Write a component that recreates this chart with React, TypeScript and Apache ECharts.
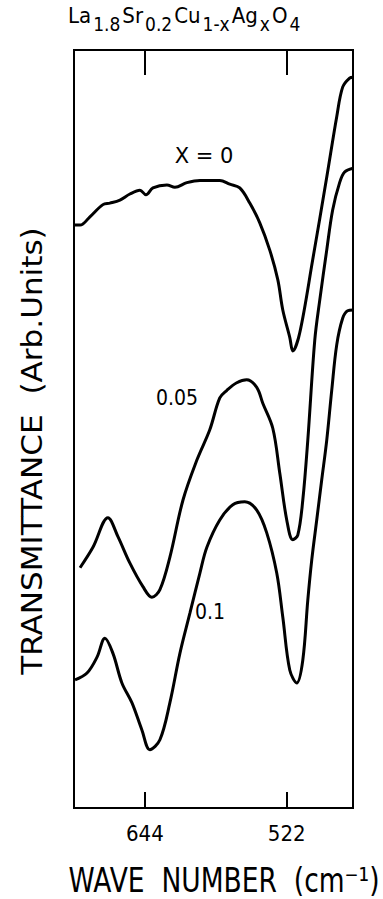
import React, { useEffect, useRef } from "react";
import * as echarts from "echarts";

// Wave number (cm^-1) and transmittance (arb. units, 0-100)
const wnX0 = [705, 699.8, 691.3, 680.1, 674.1, 665.5, 656.9, 648.3, 643.1, 637.1, 625.1, 618.2, 607.9, 596.7, 579.6, 571.0, 562.4, 553.8, 545.2, 536.6, 529.7, 525.4, 519.4, 516.8, 510.8, 499.7, 487.6, 479.0, 473.9, 467.9, 465];
const trX0 = [76.9, 76.9, 78.0, 79.6, 79.8, 80.2, 81.0, 81.5, 80.9, 81.8, 82.2, 81.9, 82.5, 82.8, 82.8, 82.3, 81.8, 79.8, 77.2, 73.6, 69.7, 65.7, 62.1, 60.3, 62.7, 72.3, 83.2, 91.2, 95.1, 96.3, 96.4];

const wnX005 = [699.8, 688.7, 675.8, 667.2, 656.9, 645.7, 638.0, 631.1, 622.5, 611.3, 599.3, 588.2, 579.6, 573.5, 565.0, 556.4, 547.8, 542.6, 534.0, 528.0, 522.0, 516.8, 512.5, 508.2, 503.9, 497.9, 493.6, 487.6, 482.5, 476.5, 472.2, 465];
const trX005 = [31.7, 34.4, 38.3, 35.8, 32.3, 29.2, 27.8, 28.8, 33.1, 40.6, 45.9, 49.9, 54.1, 55.1, 56.1, 56.5, 55.5, 53.4, 50.1, 44.2, 38.0, 35.4, 36.0, 40.6, 48.5, 61.7, 67.0, 73.6, 78.9, 82.5, 83.9, 84.4];

const wnX01 = [704.1, 693.8, 685.2, 678.4, 671.5, 663.8, 655.2, 646.6, 639.7, 631.1, 622.5, 613.9, 605.3, 596.7, 590.7, 579.6, 568.4, 558.1, 547.8, 539.2, 530.6, 525.4, 519.4, 513.4, 508.2, 503.9, 500.5, 496.2, 491.9, 487.6, 483.3, 479.0, 473.9, 469.6, 465];
const trX01 = [16.9, 17.8, 19.9, 22.4, 20.4, 16.5, 13.9, 10.3, 7.7, 9.0, 13.9, 20.4, 25.7, 31.0, 34.4, 38.0, 40.0, 40.4, 39.3, 36.3, 31.0, 25.2, 18.2, 16.5, 19.5, 27.4, 32.7, 38.0, 43.3, 48.5, 55.1, 61.1, 64.6, 65.6, 65.7];

const tickValues = [644, 522];
const seriesLabels = ["X = 0", "0.05", "0.1"];

const FONT = "'DejaVu Sans', sans-serif";
const FONT_C = "'DejaVu Sans Condensed', 'DejaVu Sans', sans-serif";

function pairs(xs: number[], ys: number[]) {
  return xs.map((x, i) => [x, ys[i]]);
}

export default function App() {
  const ref = useRef<HTMLDivElement>(null);
  useEffect(() => {
    if (!ref.current) return;
    const chart = echarts.init(ref.current, null, { renderer: "svg" });
    const lineStyle = { color: "#000", width: 3 };
    const mkSeries = (name: string, data: number[][]) => ({
      name,
      type: "line",
      data,
      smooth: 0.35,
      showSymbol: false,
      symbol: "none",
      lineStyle,
      xAxisIndex: 0,
      yAxisIndex: 0,
    });
    const seriesText = (text: string, x: number, y: number, fontFamily: string) => ({
      type: "text",
      x,
      y,
      style: {
        text,
        fill: "#000",
        fontSize: 21,
        fontFamily,
        align: "center",
        verticalAlign: "middle",
      },
    });
    chart.setOption({
      animation: false,
      backgroundColor: "#fff",
      grid: {
        left: 74,
        right: 30,
        top: 50,
        bottom: 91,
        show: true,
        borderColor: "#000",
        borderWidth: 2,
        backgroundColor: "transparent",
      },
      xAxis: [
        {
          type: "value",
          min: 465,
          max: 705,
          inverse: true,
          position: "bottom",
          axisLine: { show: true, lineStyle: { color: "#000", width: 2 } },
          axisTick: {
            show: true,
            inside: true,
            length: 16,
            customValues: tickValues,
            lineStyle: { color: "#000", width: 2 },
          },
          axisLabel: {
            show: true,
            customValues: tickValues,
            color: "#000",
            fontSize: 22,
            fontFamily: FONT_C,
            margin: 14,
          },
          splitLine: { show: false },
        },
        {
          type: "value",
          min: 465,
          max: 705,
          inverse: true,
          position: "top",
          axisLine: { show: true, lineStyle: { color: "#000", width: 2 } },
          axisTick: {
            show: true,
            inside: true,
            length: 25,
            customValues: tickValues,
            lineStyle: { color: "#000", width: 2 },
          },
          axisLabel: { show: false },
          splitLine: { show: false },
        },
      ],
      yAxis: {
        type: "value",
        min: 0,
        max: 100,
        axisLine: { show: true, lineStyle: { color: "#000", width: 2 } },
        axisTick: { show: false },
        axisLabel: { show: false },
        splitLine: { show: false },
      },
      series: [
        mkSeries(seriesLabels[0], pairs(wnX0, trX0)),
        mkSeries(seriesLabels[1], pairs(wnX005, trX005)),
        mkSeries(seriesLabels[2], pairs(wnX01, trX01)),
      ],
      graphic: [
        {
          type: "text",
          left: 68,
          top: 4,
          style: {
            text:
              "{m|La}{s|1.8}{m|Sr}{s|0.2}{m|Cu}{s|1-x}{m|Ag}{s|x}{m|O}{s|4}",
            fill: "#000",
            fontFamily: FONT_C,
            rich: {
              m: { fontSize: 22, lineHeight: 26, verticalAlign: "top", fontFamily: FONT_C },
              s: { fontSize: 19, lineHeight: 20, padding: [10, 2, 0, 2], verticalAlign: "top", fontFamily: FONT_C },
            },
          },
        },
        seriesText(seriesLabels[0], 204, 156, FONT),
        seriesText(seriesLabels[1], 177, 398, FONT_C),
        seriesText(seriesLabels[2], 210, 612, FONT_C),
        {
          type: "text",
          x: 33,
          y: 451,
          rotation: Math.PI / 2,
          scaleX: 1.11,
          style: {
            text: "TRANSMITTANCE  (Arb.Units)",
            fill: "#000",
            fontSize: 28,
            fontFamily: FONT,
            align: "center",
            verticalAlign: "middle",
          },
        },
        {
          type: "text",
          x: 224,
          y: 880,
          scaleX: 0.78,
          style: {
            text: "WAVE  NUMBER  (cm⁻¹)",
            fill: "#000",
            fontSize: 34,
            fontFamily: FONT,
            align: "center",
            verticalAlign: "middle",
          },
        },
      ],
    });
    return () => chart.dispose();
  }, []);
  return (
    <div
      ref={ref}
      style={{ position: "absolute", left: 0, top: 0, width: 383, height: 899 }}
    />
  );
}
